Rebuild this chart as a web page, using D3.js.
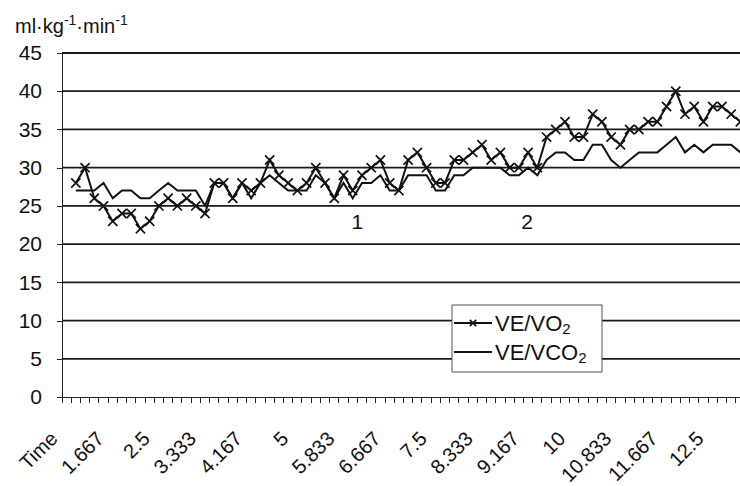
<!DOCTYPE html>
<html>
<head>
<meta charset="utf-8">
<script src="https://cdnjs.cloudflare.com/ajax/libs/d3/7.8.5/d3.min.js"></script>
<style>
    body { margin: 0; background: #fff; }
    #vent-vis svg { display: block; overflow: hidden; }
    #vent-vis text { font-family: "Liberation Sans", Arial, Helvetica, sans-serif; fill: #111; }
    .axis path, .axis line { stroke: #222; shape-rendering: crispEdges; }
    .grid-line { stroke: #1a1a1a; stroke-width: 1.8; }
    .series-line { fill: none; stroke: #111; stroke-width: 2; stroke-linejoin: miter; }
    .cross { fill: none; stroke: #111; stroke-width: 1.7; }
</style>
</head>
<body>
<div id="vent-vis"></div>
<script>
// categories as in the spreadsheet (first one is the header cell "Time")
var categories = ["Time",
    "1", "1.167", "1.333", "1.5", "1.667", "1.833", "2", "2.167", "2.333", "2.5",
    "2.667", "2.833", "3", "3.167", "3.333", "3.5", "3.667", "3.833", "4", "4.167",
    "4.333", "4.5", "4.667", "4.833", "5", "5.167", "5.333", "5.5", "5.667", "5.833",
    "6", "6.167", "6.333", "6.5", "6.667", "6.833", "7", "7.167", "7.333", "7.5",
    "7.667", "7.833", "8", "8.167", "8.333", "8.5", "8.667", "8.833", "9", "9.167",
    "9.333", "9.5", "9.667", "9.833", "10", "10.167", "10.333", "10.5", "10.667", "10.833",
    "11", "11.167", "11.333", "11.5", "11.667", "11.833", "12", "12.167", "12.333", "12.5",
    "12.667", "12.833", "13"];

// category labels that are printed under the axis
var tickLabels = ["Time", "1.667", "2.5", "3.333", "4.167", "5", "5.833", "6.667",
    "7.5", "8.333", "9.167", "10", "10.833", "11.667", "12.5"];

var veVo2 = [null,
    28, 30, 26, 25, 23, 24, 24, 22, 23, 25,
    26, 25, 26, 25, 24, 28, 28, 26, 28, 27,
    28, 31, 29, 28, 27, 28, 30, 28, 26, 29,
    27, 29, 30, 31, 28, 27, 31, 32, 30, 28,
    28, 31, 31, 32, 33, 31, 32, 30, 30, 32,
    30, 34, 35, 36, 34, 34, 37, 36, 34, 33,
    35, 35, 36, 36, 38, 40, 37, 38, 36, 38,
    38, 37, 36];

var veVco2 = [null,
    27, 27, 27, 28, 26, 27, 27, 26, 26, 27,
    28, 27, 27, 27, 25, 28, 28, 26, 28, 26,
    28, 29, 28, 27, 27, 27, 29, 28, 26, 28,
    26, 28, 28, 29, 27, 27, 29, 29, 29, 27,
    27, 29, 29, 30, 30, 30, 30, 29, 29, 30,
    29, 31, 32, 32, 31, 31, 33, 33, 31, 30,
    31, 32, 32, 32, 33, 34, 32, 33, 32, 33,
    33, 33, 32];

var yTicks = [0, 5, 10, 15, 20, 25, 30, 35, 40, 45];

// threshold marks written inside the plot (position in category units)
var notes = [
    { text: "1", pos: 32.0, value: 22 },
    { text: "2", pos: 50.4, value: 22 }
];

var seriesNames = [
    { main: "VE/VO", sub: "2", cross: true },
    { main: "VE/VCO", sub: "2", cross: false }
];


VentVis = function(_parentElement, _vo2, _vco2){
    this.parentElement = _parentElement;
    this.vo2 = _vo2;
    this.vco2 = _vco2;
    this.initVis();
}

VentVis.prototype.initVis = function(){
    var vis = this;

    vis.margin = { top: 53, right: 0, bottom: 89, left: 62 };
    vis.outerWidth = 740;
    vis.outerHeight = 486;
    // plot runs a bit past the right edge, like the cropped original
    vis.width = 683;
    vis.height = vis.outerHeight - vis.margin.top - vis.margin.bottom;

    vis.svgRoot = d3.select("#" + vis.parentElement).append("svg")
        .attr("width", vis.outerWidth)
        .attr("height", vis.outerHeight);

    vis.svg = vis.svgRoot.append("g")
        .attr("transform", "translate(" + vis.margin.left + "," + vis.margin.top + ")");

    // Scales
    vis.x = d3.scaleBand()
        .domain(categories)
        .range([0, vis.width])
        .padding(0);

    vis.xPos = d3.scaleLinear()
        .domain([0, categories.length])
        .range([0, vis.width]);

    vis.y = d3.scaleLinear()
        .domain([0, 45])
        .range([vis.height, 0]);

    vis.wrangleData();
}

VentVis.prototype.wrangleData = function(){
    var vis = this;
    vis.displayData = categories.map(function(c, i){
        return { cat: c, vo2: vis.vo2[i], vco2: vis.vco2[i] };
    });
    vis.updateVis();
}

VentVis.prototype.updateVis = function(){
    var vis = this;
    var bw = vis.x.bandwidth();

    //======= Grid lines ======//
    vis.svg.append("g").attr("class", "grid")
        .selectAll("line")
        .data(yTicks.filter(function(d){ return d > 0; }))
        .enter().append("line")
        .attr("class", "grid-line")
        .attr("x1", 0)
        .attr("x2", vis.width)
        .attr("y1", function(d){ return vis.y(d); })
        .attr("y2", function(d){ return vis.y(d); });

    //======= Axes ======//
    vis.yAxis = d3.axisLeft(vis.y)
        .tickValues(yTicks)
        .tickSize(5)
        .tickPadding(15);

    var yg = vis.svg.append("g")
        .attr("class", "y-axis axis")
        .call(vis.yAxis);
    yg.select(".domain").attr("stroke-width", 1.6);
    yg.selectAll("text").style("font-size", "21px");

    vis.xAxis = d3.axisBottom(vis.x)
        .tickValues([])
        .tickSizeOuter(0);

    var xg = vis.svg.append("g")
        .attr("class", "x-axis axis")
        .attr("transform", "translate(0," + vis.height + ")")
        .call(vis.xAxis);
    xg.select(".domain").attr("stroke-width", 1.6);

    // small tick marks between categories
    var edges = categories.map(function(c){ return vis.x(c); }).concat([vis.width]);
    xg.selectAll(".cat-tick")
        .data(edges)
        .enter().append("line")
        .attr("class", "cat-tick")
        .attr("x1", function(d){ return d; })
        .attr("x2", function(d){ return d; })
        .attr("y1", 0)
        .attr("y2", 6)
        .attr("stroke", "#444");

    // rotated category labels, every 5th category (matrix = rotate -45 + shift)
    var shown = categories.filter(function(c){ return tickLabels.indexOf(c) >= 0; });
    var c45 = Math.SQRT1_2;
    xg.selectAll(".cat-label")
        .data(shown)
        .enter().append("text")
        .attr("class", "cat-label")
        .attr("transform", function(d){
            var px = (vis.x(d) + bw / 2 - 12.7).toFixed(2);
            return "matrix(" + c45.toFixed(5) + "," + (-c45).toFixed(5) + "," +
                c45.toFixed(5) + "," + c45.toFixed(5) + "," + px + ",38)";
        })
        .attr("dy", "0.35em")
        .attr("text-anchor", "end")
        .style("font-size", "20px")
        .text(function(d){ return d; });

    //======= Series lines ======//
    var lineFor = function(key){
        return d3.line()
            .defined(function(d){ return d[key] !== null; })
            .x(function(d){ return vis.x(d.cat) + bw / 2; })
            .y(function(d){ return vis.y(d[key]); });
    };

    vis.svg.append("path")
        .datum(vis.displayData)
        .attr("class", "series-line")
        .attr("d", lineFor("vco2"));

    vis.svg.append("path")
        .datum(vis.displayData)
        .attr("class", "series-line")
        .attr("d", lineFor("vo2"));

    var crossPath = function(r){
        return "M" + (-r) + "," + (-r) + "L" + r + "," + r + "M" + (-r) + "," + r + "L" + r + "," + (-r);
    };

    vis.svg.selectAll(".cross")
        .data(vis.displayData.filter(function(d){ return d.vo2 !== null; }))
        .enter().append("path")
        .attr("class", "cross")
        .attr("d", crossPath(4.6))
        .attr("transform", function(d){
            return "translate(" + (vis.x(d.cat) + bw / 2) + "," + vis.y(d.vo2) + ")";
        });

    //======= Threshold notes ======//
    vis.svg.selectAll(".note")
        .data(notes)
        .enter().append("text")
        .attr("class", "note")
        .attr("x", function(d){ return vis.xPos(d.pos); })
        .attr("y", function(d){ return vis.y(d.value); })
        .style("text-anchor", "middle")
        .style("font-size", "21px")
        .text(function(d){ return d.text; });

    //======= Unit label ======//
    var unit = vis.svgRoot.append("text")
        .attr("x", 15)
        .attr("y", 33)
        .style("font-size", "20px");
    unit.append("tspan").text("ml\u00b7kg");
    unit.append("tspan").attr("dy", -8).style("font-size", "14px").text("-1");
    unit.append("tspan").attr("dy", 8).text("\u00b7min");
    unit.append("tspan").attr("dy", -8).style("font-size", "14px").text("-1");

    //======= Legend ======//
    var legend = vis.svgRoot.append("g")
        .attr("transform", "translate(452,305)");

    legend.append("rect")
        .attr("width", 150)
        .attr("height", 67)
        .attr("fill", "#fff")
        .attr("stroke", "#555")
        .attr("stroke-width", 1);

    var item = legend.selectAll(".legend-item")
        .data(seriesNames)
        .enter().append("g")
        .attr("class", "legend-item")
        .attr("transform", function(d, i){ return "translate(0," + (18 + i * 29) + ")"; });

    item.append("line")
        .attr("x1", 2)
        .attr("x2", 40)
        .attr("stroke", "#111")
        .attr("stroke-width", 1.8);

    item.filter(function(d){ return d.cross; })
        .append("path")
        .attr("class", "cross")
        .attr("d", crossPath(3.2))
        .attr("transform", "translate(21,0)");

    var label = item.append("text")
        .attr("x", 43)
        .attr("y", 8)
        .style("font-size", "22px");
    label.append("tspan").text(function(d){ return d.main; });
    label.append("tspan")
        .attr("dy", 3)
        .style("font-size", "15px")
        .text(function(d){ return d.sub; });
}

var ventVis = new VentVis("vent-vis", veVo2, veVco2);
</script>
</body>
</html>
